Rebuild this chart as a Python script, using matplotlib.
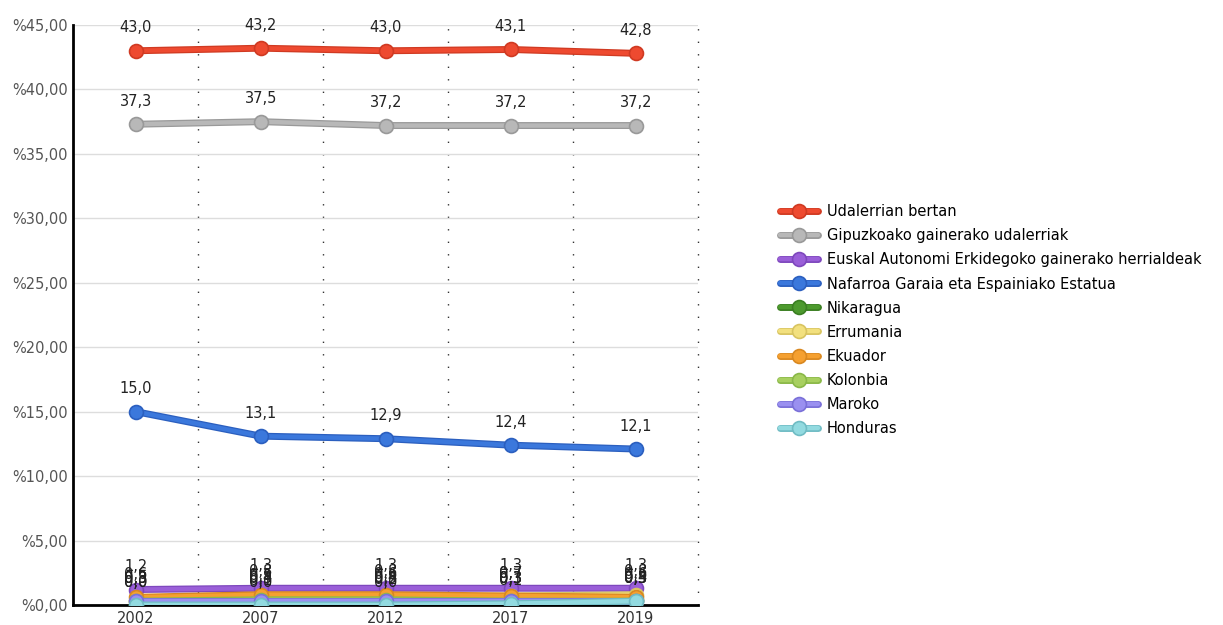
import numpy as np
import matplotlib
matplotlib.use("Agg")
import matplotlib.pyplot as plt
import matplotlib.patheffects as pe
from matplotlib.legend_handler import HandlerTuple

# years on the x axis (categorical)
years = ["2002", "2007", "2012", "2017", "2019"]

udalerrian = [43.0, 43.2, 43.0, 43.1, 42.8]
gipuzkoa = [37.3, 37.5, 37.2, 37.2, 37.2]
euskal = [1.2, 1.3, 1.3, 1.3, 1.3]
nafarroa = [15.0, 13.1, 12.9, 12.4, 12.1]
nikaragua = [0.0, 0.1, 0.2, 0.3, 0.4]
errumania = [0.3, 0.5, 0.6, 0.7, 0.8]
ekuador = [0.6, 0.8, 0.8, 0.7, 0.6]
kolonbia = [0.3, 0.4, 0.4, 0.3, 0.3]
maroko = [0.3, 0.3, 0.3, 0.3, 0.3]
honduras = [0.0, 0.0, 0.0, 0.1, 0.3]

names = ["Udalerrian bertan", "Gipuzkoako gainerako udalerriak",
         "Euskal Autonomi Erkidegoko gainerako herrialdeak",
         "Nafarroa Garaia eta Espainiako Estatua", "Nikaragua", "Errumania",
         "Ekuador", "Kolonbia", "Maroko", "Honduras"]
series = [udalerrian, gipuzkoa, euskal, nafarroa, nikaragua, errumania,
          ekuador, kolonbia, maroko, honduras]
colors = ["#ee4a30", "#b8b8b8", "#9a5fd8", "#3b78dc", "#4d9a2e", "#f2e07e",
          "#f5a030", "#a8d060", "#9a90f0", "#92dae0"]
edges = ["#d03a22", "#999999", "#7e48bd", "#2b5fbf", "#3b7f22", "#d8c460",
         "#d98820", "#8ab848", "#7a70d8", "#70bcc4"]

fig = plt.figure(figsize=(12.23, 6.25), dpi=100)
ax = fig.add_axes([0.06, 0.032, 0.511, 0.928])

x = np.arange(len(years))
handles = []
for vals, name, c, ec in zip(series, names, colors, edges):
    ln, = ax.plot(x, vals, color=c, lw=3.2, solid_capstyle="round", zorder=3,
                  path_effects=[pe.Stroke(linewidth=5, foreground=ec), pe.Normal()])
    mk, = ax.plot(x, vals, ls="none", marker="o", ms=10, markerfacecolor=c,
                  markeredgecolor=ec, markeredgewidth=1.2, zorder=3)
    handles.append((ln, mk))
    for xi, v in zip(x, vals):
        ax.annotate(("%.1f" % v).replace(".", ","), (xi, v),
                    xytext=(0, 11), textcoords="offset points",
                    ha="center", va="bottom", fontsize=10.5, color="#222222")

ax.set_xlim(-0.5, 4.5)
ax.set_ylim(0, 45)
ax.set_xticks(x)
ax.set_xticklabels(years, fontsize=10.5, color="#333333")
yt = np.arange(0, 46, 5)
ax.set_yticks(yt)
ax.set_yticklabels(["%%%d,00" % v for v in yt], fontsize=10.5, color="#555555")
ax.tick_params(length=0, pad=4)

ax.grid(axis="y", color="#dddddd", lw=1, zorder=0)
for b in np.arange(0.5, 5, 1):
    ax.axvline(b, color="#333333", lw=1, ls=(0, (1, 8)), zorder=1, clip_on=False)

for s in ["top", "right"]:
    ax.spines[s].set_visible(False)
ax.spines["left"].set_linewidth(2)
ax.spines["bottom"].set_linewidth(2)

fig.legend(handles=handles, labels=names, loc="upper left",
           bbox_to_anchor=(0.627, 0.694), frameon=False, fontsize=10.5,
           handlelength=2.6, labelspacing=0.62, handletextpad=0.6,
           handler_map={tuple: HandlerTuple(ndivide=1)})

fig.savefig("out.png", dpi=100)
